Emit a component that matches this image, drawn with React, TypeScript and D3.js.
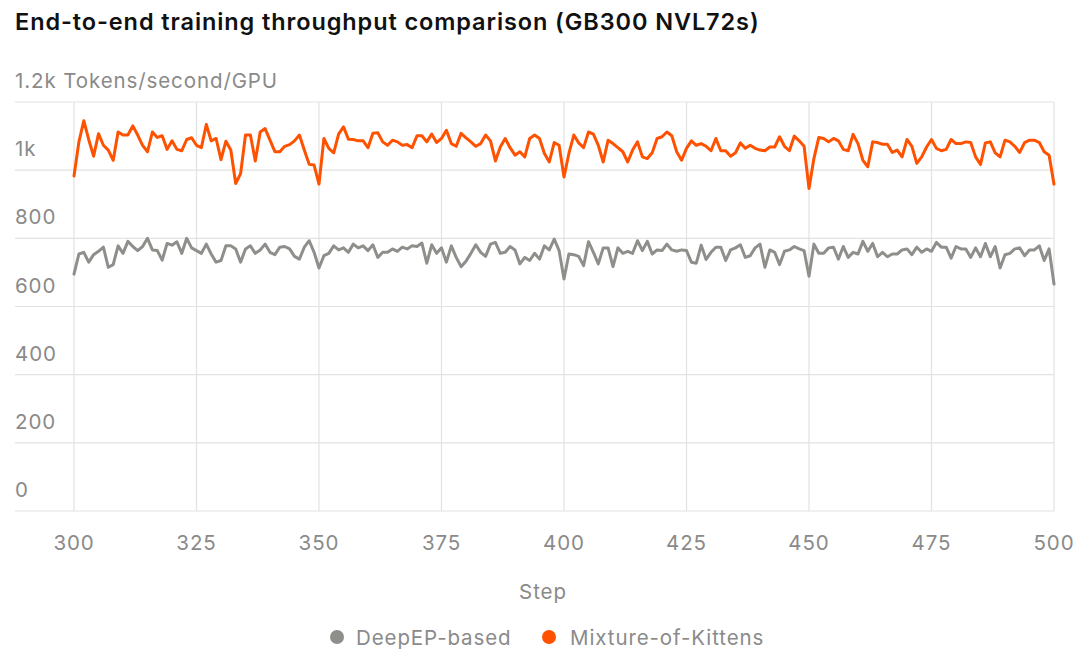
import * as d3 from "d3";

const WIDTH = 1080;
const HEIGHT = 665;

const MARGIN = { top: 102, right: 26, bottom: 154, left: 74 };

const STEPS = d3.range(300, 501);

const X_TICKS = [300, 325, 350, 375, 400, 425, 450, 475, 500];
const Y_TICKS = [0, 200, 400, 600, 800, 1000, 1200];
const Y_TICK_LABELS = ["0", "200", "400", "600", "800", "1k", "1.2k Tokens/second/GPU"];

// Mixture-of-Kittens, steps 300..500
const KITTENS = [
  983, 1083, 1145, 1090, 1041, 1107, 1073, 1059, 1029, 1112,
  1103, 1103, 1130, 1103, 1073, 1054, 1112, 1096, 1101, 1061,
  1086, 1061, 1057, 1090, 1095, 1073, 1066, 1134, 1086, 1093,
  1031, 1085, 1059, 961, 990, 1103, 1103, 1027, 1112, 1122,
  1088, 1054, 1054, 1070, 1075, 1086, 1103, 1059, 1017, 1015,
  959, 1093, 1064, 1051, 1106, 1127, 1091, 1090, 1086, 1086,
  1066, 1108, 1110, 1083, 1073, 1088, 1083, 1073, 1075, 1066,
  1101, 1101, 1083, 1106, 1081, 1093, 1117, 1078, 1070, 1108,
  1095, 1083, 1070, 1078, 1103, 1086, 1027, 1068, 1093, 1066,
  1044, 1054, 1039, 1093, 1103, 1093, 1049, 1024, 1081, 1073,
  980, 1049, 1103, 1080, 1066, 1112, 1106, 1073, 1024, 1088,
  1078, 1066, 1054, 1024, 1059, 1083, 1039, 1034, 1051, 1093,
  1098, 1112, 1101, 1054, 1029, 1064, 1086, 1073, 1078, 1070,
  1057, 1093, 1057, 1057, 1041, 1051, 1080, 1064, 1073, 1064,
  1059, 1057, 1068, 1068, 1098, 1070, 1057, 1100, 1086, 1070,
  946, 1034, 1096, 1093, 1083, 1093, 1086, 1061, 1057, 1105,
  1078, 1029, 1010, 1083, 1081, 1076, 1076, 1052, 1059, 1039,
  1090, 1070, 1020, 1039, 1068, 1090, 1064, 1057, 1061, 1090,
  1078, 1078, 1083, 1081, 1039, 1017, 1080, 1083, 1051, 1039,
  1088, 1083, 1070, 1052, 1081, 1088, 1088, 1081, 1054, 1044,
  959,
];

// DeepEP-based, steps 300..500
const DEEPEP = [
  695, 754, 759, 730, 752, 762, 774, 715, 723, 778,
  756, 791, 776, 764, 776, 800, 766, 764, 736, 785,
  780, 790, 756, 800, 772, 764, 756, 783, 754, 730,
  735, 778, 778, 769, 730, 769, 778, 756, 766, 783,
  759, 752, 774, 776, 769, 747, 739, 774, 793, 759,
  713, 749, 756, 778, 766, 772, 759, 783, 772, 778,
  764, 781, 744, 759, 759, 769, 762, 774, 769, 778,
  776, 786, 727, 781, 756, 772, 730, 778, 744, 717,
  733, 756, 781, 759, 747, 783, 788, 756, 759, 776,
  766, 725, 744, 735, 756, 739, 778, 766, 798, 764,
  681, 754, 752, 747, 720, 790, 759, 725, 772, 772,
  717, 772, 756, 762, 756, 793, 764, 791, 754, 766,
  764, 783, 766, 762, 766, 764, 730, 727, 780, 738,
  759, 774, 774, 735, 766, 772, 781, 744, 749, 772,
  783, 715, 766, 759, 723, 762, 766, 776, 769, 764,
  689, 783, 756, 756, 772, 774, 739, 776, 744, 759,
  754, 791, 762, 785, 746, 759, 746, 754, 754, 766,
  769, 752, 774, 759, 769, 762, 788, 774, 774, 742,
  776, 769, 769, 744, 772, 746, 785, 746, 776, 713,
  752, 756, 769, 772, 749, 766, 766, 778, 735, 769,
  666,
];

const SERIES = [
  { name: "DeepEP-based", color: "#8e8e8a", values: DEEPEP },
  { name: "Mixture-of-Kittens", color: "#ff5200", values: KITTENS },
];

const FONT = "Inter, 'Noto Sans', sans-serif";
const TEXT_GREY = "#8a8a8a";
const GRID = "#e2e2e2";
const LABEL_SIZE = 20.5;
const LABEL_SPACING = 0.9;

export default function App() {
  const x = d3
    .scaleLinear()
    .domain([300, 500])
    .range([MARGIN.left, WIDTH - MARGIN.right]);
  const y = d3
    .scaleLinear()
    .domain([0, 1200])
    .range([HEIGHT - MARGIN.bottom, MARGIN.top]);

  const line = d3
    .line<number>()
    .x((_, i) => x(STEPS[i]))
    .y((d) => y(d));

  return (
    <>
      <style>{`body{margin:0}`}</style>
      <svg width={WIDTH} height={HEIGHT} style={{ display: "block", fontFamily: FONT }}>
        <rect width={WIDTH} height={HEIGHT} fill="#fff" />
        <text x={15} y={30} fontSize={23.5} fontWeight={600} fill="#111" letterSpacing={0.9}>
          End-to-end training throughput comparison (GB300 NVL72s)
        </text>

        {/* horizontal grid + y labels */}
        {Y_TICKS.map((t, i) => (
          <g key={t}>
            <line x1={15} x2={x(500)} y1={y(t)} y2={y(t)} stroke={GRID} strokeWidth={1.2} />
            <text
              x={15}
              y={y(t) - 14}
              fontSize={LABEL_SIZE}
              letterSpacing={LABEL_SPACING}
              fill={TEXT_GREY}
            >
              {Y_TICK_LABELS[i]}
            </text>
          </g>
        ))}

        {/* vertical grid + x labels */}
        {X_TICKS.map((t) => (
          <g key={t}>
            <line x1={x(t)} x2={x(t)} y1={y(1200)} y2={y(0)} stroke={GRID} strokeWidth={1.2} />
            <text
              x={x(t)}
              y={550}
              fontSize={LABEL_SIZE}
              letterSpacing={LABEL_SPACING}
              fill={TEXT_GREY}
              textAnchor="middle"
            >
              {t}
            </text>
          </g>
        ))}

        <text
          x={543}
          y={599}
          fontSize={LABEL_SIZE}
          letterSpacing={LABEL_SPACING}
          fill={TEXT_GREY}
          textAnchor="middle"
        >
          Step
        </text>

        {SERIES.map((s) => (
          <path
            key={s.name}
            d={line(s.values) ?? ""}
            fill="none"
            stroke={s.color}
            strokeWidth={3}
            strokeLinejoin="round"
            strokeLinecap="round"
          />
        ))}

        {/* legend */}
        <g fontSize={LABEL_SIZE} letterSpacing={LABEL_SPACING} fill={TEXT_GREY}>
          <circle cx={337} cy={637} r={7} fill={SERIES[0].color} />
          <text x={356} y={644.5}>
            {SERIES[0].name}
          </text>
          <circle cx={549} cy={637} r={7} fill={SERIES[1].color} />
          <text x={570} y={644.5}>
            {SERIES[1].name}
          </text>
        </g>
      </svg>
    </>
  );
}
